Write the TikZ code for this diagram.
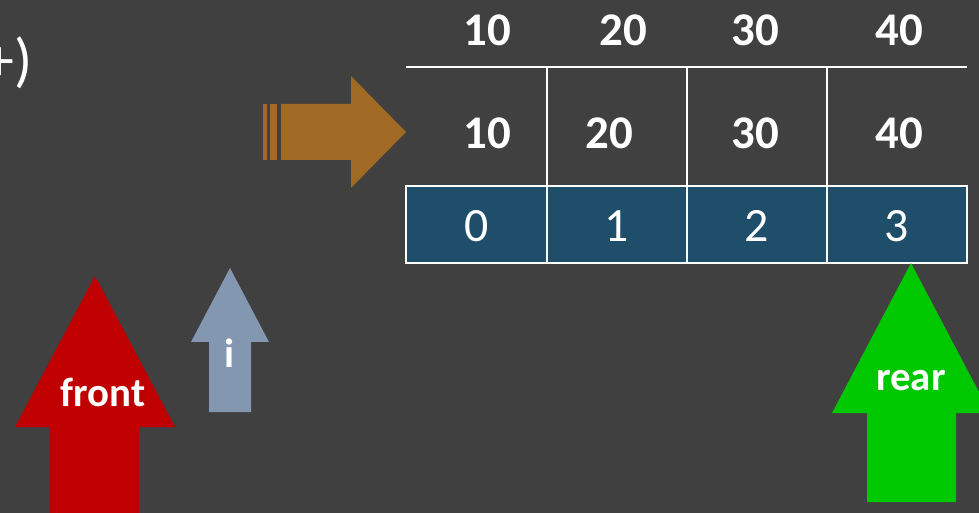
\documentclass[tikz,border=0pt]{standalone}
\usepackage{fontspec}
\setmainfont{Carlito}
\definecolor{bgcol}{HTML}{404040}
\definecolor{pushcol}{HTML}{A06A24}
\definecolor{frontcol}{HTML}{C00000}
\definecolor{icol}{HTML}{8497B0}
\definecolor{rearcol}{HTML}{00C800}
\definecolor{idxcol}{HTML}{1F4E6B}
\tikzset{
  grid/.style={draw=white, line width=2.2bp},
  val/.style={text=white, inner sep=0pt, font=\fontsize{47}{50}\selectfont\bfseries},
  idx/.style={text=white, inner sep=0pt, font=\fontsize{48}{50}\selectfont},
  tag/.style={text=white, inner sep=0pt, font=\fontsize{41}{44}\selectfont\bfseries},
}
\begin{document}
\begin{tikzpicture}[x=1bp,y=-1bp]
  % background and page size
  \fill[bgcol] (0,0) rectangle (979,513);
  \useasboundingbox (0,0) rectangle (979,513);

  % end of a line of code, running in from the left edge
  \node[text=white, inner sep=0pt, anchor=base east, font=\fontsize{60}{64}\selectfont] (code) at (33,81) {+)};

  % striped block arrow pointing at the array
  \fill[pushcol] (263,104) rectangle (267,160);
  \fill[pushcol] (270,104) rectangle (277,160);
  \fill[pushcol] (281,104) -- (351,104) -- (351,76) -- (406,132) -- (351,188)
                 -- (351,160) -- (281,160) -- cycle;

  % index row
  \fill[idxcol] (406,186) rectangle (967,263);
  \draw[grid] (406,67) -- (967,67);
  \draw[grid] (406,186) rectangle (967,263);
  \foreach \x in {547,687,827} \draw[grid] (\x,67) -- (\x,263);

  % values above the table
  \node[val] (t0) at (487,30) {10};
  \node[val] (t1) at (623,30) {20};
  \node[val] (t2) at (755,30) {30};
  \node[val] (t3) at (899,30) {40};
  % values in the table
  \node[val] (v0) at (487,133) {10};
  \node[val] (v1) at (609,133) {20};
  \node[val] (v2) at (755,133) {30};
  \node[val] (v3) at (899,133) {40};
  % indices
  \node[idx] (i0) at (477,226) {0};
  \node[idx] (i1) at (617,226) {1};
  \node[idx] (i2) at (757,226) {2};
  \node[idx] (i3) at (897,226) {3};

  % front pointer
  \fill[frontcol] (95,276) -- (175,427) -- (139,427) -- (139,520) -- (50,520)
                  -- (50,427) -- (15,427) -- cycle;
  \node[tag] (front) at (103,392) {front};

  % loop index pointer
  \fill[icol] (230,268) -- (269,342) -- (251,342) -- (251,412) -- (209,412)
              -- (209,342) -- (191,342) -- cycle;
  \node[tag] (ilabel) at (230,353) {i};

  % rear pointer
  \fill[rearcol] (911,263) -- (990,413) -- (956,413) -- (956,502) -- (867,502)
                 -- (867,413) -- (832,413) -- cycle;
  \node[tag] (rear) at (911,381) {rear};
\end{tikzpicture}
\end{document}
